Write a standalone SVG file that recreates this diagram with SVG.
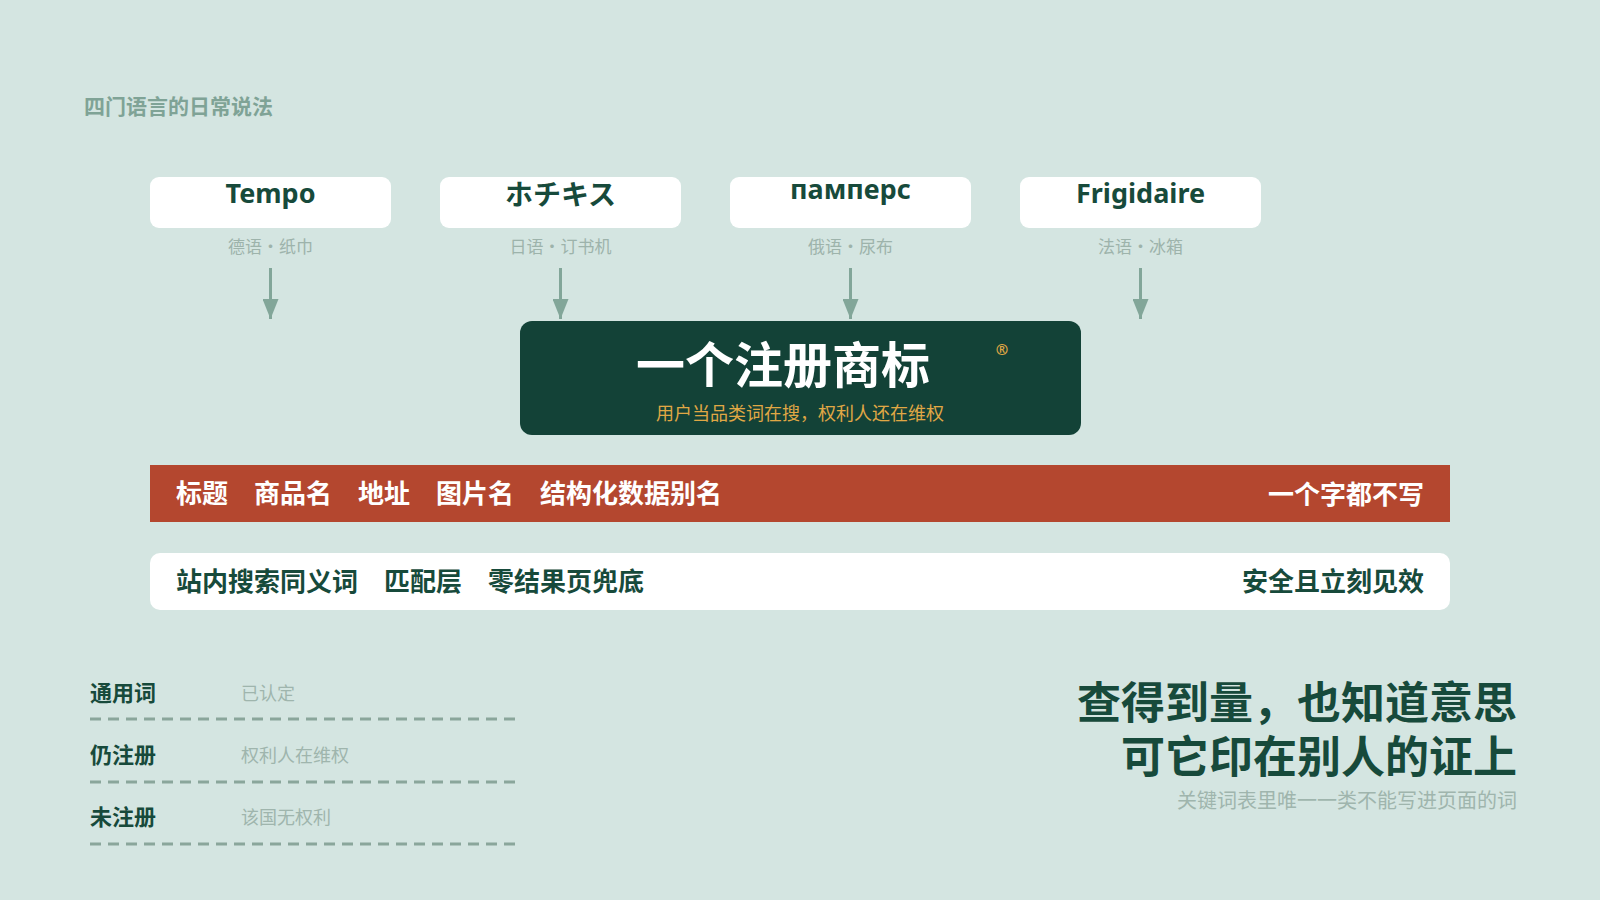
<svg xmlns="http://www.w3.org/2000/svg" width="1600" height="900" viewBox="0 0 1600 900">
<defs>
<style>
.cjk{font-family:"Noto Sans CJK SC","Noto Sans",sans-serif}
.term{font-family:"Noto Sans","Noto Sans CJK JP",sans-serif;font-weight:700;font-size:27px;fill:#174a3b;text-anchor:middle}
.termbox{fill:#ffffff}
.sub{font-size:17px;fill:#9db3ab;text-anchor:middle}
.arrow{stroke:#82a699;stroke-width:3;fill:none}
.bar{font-size:26px;font-weight:700}
.lbl{font-size:22px;font-weight:700;fill:#174a3b}
.val{font-size:18px;fill:#9fb5ad}
.dash{stroke:#8aa69b;stroke-width:3;stroke-dasharray:11 7;fill:none}
</style>
<marker id="ah" viewBox="0 0 20 16" refX="20" refY="8" markerWidth="20" markerHeight="16" markerUnits="userSpaceOnUse" orient="auto">
<path d="M0,0 L20,8 L0,16 Z" fill="#82a699"/>
</marker>
</defs>
<rect x="0" y="0" width="1600" height="900" fill="#d4e5e1"/>
<text x="84" y="114" class="cjk" font-size="21" font-weight="700" fill="#7fa396">四门语言的日常说法</text>

<g id="node-tempo">
<rect class="termbox" x="150" y="177" width="241" height="51" rx="9"/>
<text class="term" x="270.5" y="203">Tempo</text>
<text class="cjk sub" x="270.5" y="253">德语・纸巾</text>
</g>
<g id="node-hotchkiss">
<rect class="termbox" x="440" y="177" width="241" height="51" rx="9"/>
<text class="term" x="560.5" y="205" style="font-family:'Noto Sans CJK JP',sans-serif;font-size:28px">ホチキス</text>
<text class="cjk sub" x="560.5" y="253">日语・订书机</text>
</g>
<g id="node-pampers">
<rect class="termbox" x="730" y="177" width="241" height="51" rx="9"/>
<text class="term" x="850.5" y="199">памперс</text>
<text class="cjk sub" x="850.5" y="253">俄语・尿布</text>
</g>
<g id="node-frigidaire">
<rect class="termbox" x="1020" y="177" width="241" height="51" rx="9"/>
<text class="term" x="1140.5" y="203">Frigidaire</text>
<text class="cjk sub" x="1140.5" y="253">法语・冰箱</text>
</g>

<g id="connectors">
<line class="arrow" x1="270.5" y1="268" x2="270.5" y2="319" marker-end="url(#ah)"/>
<line class="arrow" x1="560.5" y1="268" x2="560.5" y2="319" marker-end="url(#ah)"/>
<line class="arrow" x1="850.5" y1="268" x2="850.5" y2="319" marker-end="url(#ah)"/>
<line class="arrow" x1="1140.5" y1="268" x2="1140.5" y2="319" marker-end="url(#ah)"/>
</g>

<g id="node-trademark">
<rect x="520" y="321" width="561" height="114" rx="12" fill="#134237"/>
<text class="cjk" x="783" y="383" font-size="49" font-weight="700" fill="#ffffff" text-anchor="middle">一个注册商标</text>
<text x="1002" y="355" font-family="'Noto Sans',sans-serif" font-size="15" font-weight="700" fill="#e0a845" text-anchor="middle">®</text>
<text class="cjk" x="800" y="420" font-size="18" fill="#e0a845" text-anchor="middle">用户当品类词在搜，权利人还在维权</text>
</g>

<g id="node-redbar">
<rect x="150" y="465" width="1300" height="57" fill="#b4472f"/>
<g class="cjk bar" fill="#ffffff">
<text x="176" y="503">标题</text>
<text x="254" y="503">商品名</text>
<text x="358" y="503">地址</text>
<text x="436" y="503">图片名</text>
<text x="540" y="503">结构化数据别名</text>
<text x="1424" y="504" text-anchor="end">一个字都不写</text>
</g>
</g>

<g id="node-whitebar">
<rect x="150" y="553" width="1300" height="57" rx="10" fill="#ffffff"/>
<g class="cjk bar" fill="#174a3b">
<text x="176" y="591">站内搜索同义词</text>
<text x="384" y="591">匹配层</text>
<text x="488" y="591">零结果页兜底</text>
<text x="1424" y="591" text-anchor="end">安全且立刻见效</text>
</g>
</g>

<g id="node-legend">
<text class="cjk lbl" x="90" y="701">通用词</text>
<text class="cjk val" x="241" y="700">已认定</text>
<line class="dash" x1="90" y1="719" x2="516" y2="719"/>
<text class="cjk lbl" x="90" y="763">仍注册</text>
<text class="cjk val" x="241" y="762">权利人在维权</text>
<line class="dash" x1="90" y1="782" x2="516" y2="782"/>
<text class="cjk lbl" x="90" y="825">未注册</text>
<text class="cjk val" x="241" y="824">该国无权利</text>
<line class="dash" x1="90" y1="844" x2="516" y2="844"/>
</g>

<g id="node-conclusion">
<text class="cjk" x="1517" y="719" font-size="44" font-weight="700" fill="#174a3b" text-anchor="end">查得到量，也知道意思</text>
<text class="cjk" x="1517" y="773" font-size="44" font-weight="700" fill="#174a3b" text-anchor="end">可它印在别人的证上</text>
<text class="cjk" x="1517" y="808" font-size="20" fill="#9fb5ad" text-anchor="end">关键词表里唯一一类不能写进页面的词</text>
</g>
</svg>
